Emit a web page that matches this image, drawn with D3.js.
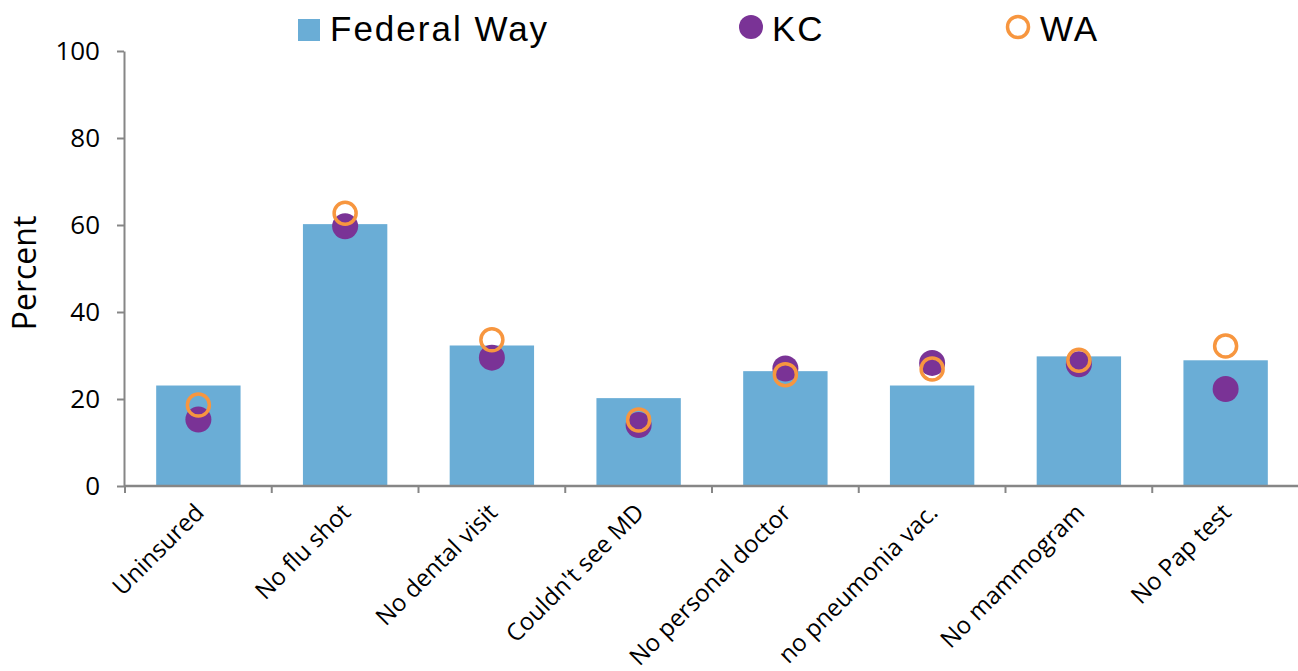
<!DOCTYPE html>
<html>
<head>
<meta charset="utf-8">
<script src="https://cdn.jsdelivr.net/npm/d3@7"></script>
<style>
  body { margin: 0; background: #fff; }
  svg { display: block; }
</style>
</head>
<body>
<svg width="1298" height="671"></svg>
<script>
var categories = ["Uninsured", "No flu shot", "No dental visit", "Couldn't see MD",
  "No personal doctor", "no pneumonia vac.", "No mammogram", "No Pap test"];
var federalWay = [23.1, 60.2, 32.3, 20.2, 26.4, 23.1, 29.8, 28.9];
var kc = [15.3, 59.7, 29.5, 14.0, 27.0, 28.3, 28.0, 22.3];
var wa = [18.6, 62.7, 33.6, 15.2, 25.6, 26.9, 28.9, 32.2];
var yTicks = [0, 20, 40, 60, 80, 100];

var svg = d3.select("svg");
var plotLeft = 124, plotRight = 1298, plotTop = 51, plotBottom = 486;
var axisColor = "#868686";

var x = d3.scaleBand().domain(categories).range([plotLeft, plotRight]).padding(0);
var y = d3.scaleLinear().domain([0, 100]).range([plotBottom, plotTop]);
var barW = x.bandwidth() * 0.575;

// bars
svg.append("g")
  .selectAll("rect")
  .data(federalWay)
  .enter()
  .append("rect")
  .attr("x", (d, i) => x(categories[i]) + x.bandwidth() / 2 - barW / 2 + 1)
  .attr("y", (d) => y(d))
  .attr("width", barW)
  .attr("height", (d) => y(0) - y(d))
  .attr("fill", "#6aadd6");

// y axis
var yAxis = svg.append("g")
  .attr("transform", "translate(" + plotLeft + ",0)")
  .call(d3.axisLeft(y).tickValues(yTicks).tickSize(7).tickSizeOuter(0).tickPadding(17));
yAxis.select(".domain").attr("stroke", axisColor).attr("stroke-width", 2);
yAxis.selectAll(".tick line").attr("stroke", axisColor).attr("stroke-width", 2);
yAxis.selectAll(".tick text")
  .attr("fill", "#000")
  .style("font-family", "'Open Sans', sans-serif")
  .style("font-size", "26px");

// x axis line and boundary ticks
svg.append("line")
  .attr("x1", plotLeft).attr("x2", plotRight)
  .attr("y1", y(0)).attr("y2", y(0))
  .attr("stroke", axisColor).attr("stroke-width", 2.5);
var bounds = categories.map((c) => x(c)).concat([plotRight]);
svg.append("g")
  .selectAll("line")
  .data(bounds)
  .enter()
  .append("line")
  .attr("x1", (d) => d + 1).attr("x2", (d) => d + 1)
  .attr("y1", y(0)).attr("y2", y(0) + 7)
  .attr("stroke", axisColor).attr("stroke-width", 2);

// category labels
svg.append("g")
  .selectAll("text")
  .data(categories)
  .enter()
  .append("text")
  .attr("transform", (d) => "translate(" + (x(d) + x.bandwidth() / 2 + 8) + "," + (y(0) + 28) + ") rotate(-45)")
  .attr("text-anchor", "end")
  .style("font-family", "'Open Sans', sans-serif")
  .style("font-size", "24px")
  .text((d) => d);

// KC dots
svg.append("g")
  .selectAll("circle")
  .data(kc)
  .enter()
  .append("circle")
  .attr("cx", (d, i) => x(categories[i]) + x.bandwidth() / 2 + 1)
  .attr("cy", (d) => y(d))
  .attr("r", 13)
  .attr("fill", "#7a3396");

// WA rings
svg.append("g")
  .selectAll("circle")
  .data(wa)
  .enter()
  .append("circle")
  .attr("cx", (d, i) => x(categories[i]) + x.bandwidth() / 2 + 1)
  .attr("cy", (d) => y(d))
  .attr("r", 11)
  .attr("fill", "none")
  .attr("stroke", "#f7963f")
  .attr("stroke-width", 3.5);

// y title
svg.append("text")
  .attr("transform", "translate(36,273) rotate(-90)")
  .attr("text-anchor", "middle")
  .style("font-family", "'Open Sans', sans-serif")
  .style("font-size", "32px")
  .text("Percent");

// legend
var legend = svg.append("g")
  .style("font-family", "'Liberation Sans', Arial, sans-serif")
  .style("font-size", "35px")
  .style("letter-spacing", "2px");
legend.append("rect").attr("x", 298).attr("y", 19).attr("width", 22).attr("height", 22).attr("fill", "#6aadd6");
legend.append("text").attr("x", 330).attr("y", 41).text("Federal Way");
legend.append("circle").attr("cx", 751).attr("cy", 27).attr("r", 12).attr("fill", "#7a3396");
legend.append("text").attr("x", 772).attr("y", 41).text("KC");
legend.append("circle").attr("cx", 1018).attr("cy", 27).attr("r", 10.5).attr("fill", "none")
  .attr("stroke", "#f7963f").attr("stroke-width", 3.5);
legend.append("text").attr("x", 1040).attr("y", 41).text("WA");
</script>
</body>
</html>
